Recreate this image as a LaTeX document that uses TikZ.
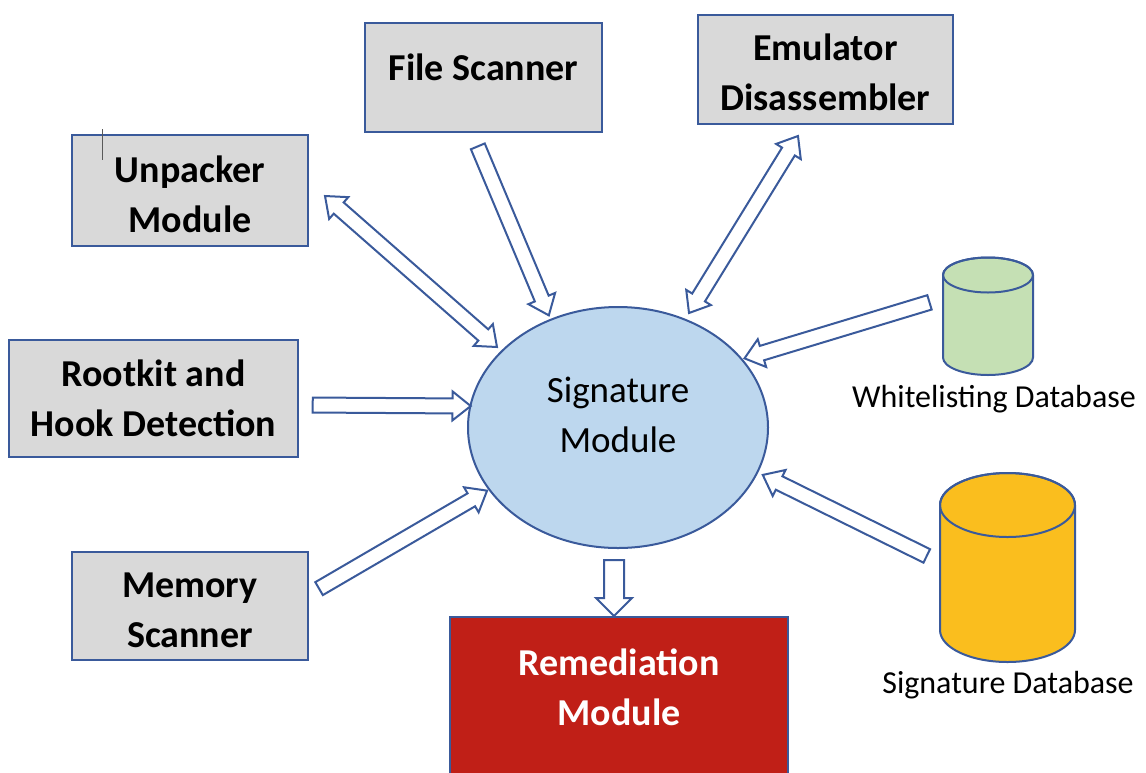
\documentclass[tikz,border=0pt]{standalone}
\usepackage{fontspec}
\setmainfont{Carlito}
\usetikzlibrary{shapes.arrows,shapes.geometric,calc}

\definecolor{edgeblue}{RGB}{58,90,155}
\definecolor{boxgray}{RGB}{217,217,217}
\definecolor{sigblue}{RGB}{189,215,238}
\definecolor{remred}{RGB}{192,31,23}
\definecolor{wlgreen}{RGB}{197,224,180}
\definecolor{dbyellow}{RGB}{250,190,30}

\tikzset{
  module/.style={draw=edgeblue, line width=2.5pt, fill=boxgray, align=center,
    inner sep=0pt, font=\bfseries\fontsize{38}{50}\selectfont},
  hollow/.style={single arrow, draw=edgeblue, fill=white, line width=2pt,
    inner xsep=0pt, inner ysep=6.5pt, single arrow head extend=7pt,
    single arrow tip angle=77, single arrow head indent=0pt},
  hollowwide/.style={hollow, inner ysep=9pt, single arrow head extend=8pt,
    single arrow tip angle=90},
  hollowtwo/.style={double arrow, draw=edgeblue, fill=white, line width=2pt,
    inner xsep=0pt, inner ysep=6.5pt, double arrow head extend=7pt,
    double arrow tip angle=77, double arrow head indent=0pt},
  dbtext/.style={font=\fontsize{32}{38}\selectfont, inner sep=0pt, anchor=base},
  dbline/.style={draw=edgeblue, line width=2pt},
}

% hollow block arrow between two named points: name, style, from, to
\newcommand\hollowarrow[4]{%
  \path let \p1=(#3), \p2=(#4),
        \n1={atan2(\y2-\y1,\x2-\x1)}, \n2={veclen(\x2-\x1,\y2-\y1)} in
    node (#1) [#2, rotate=\n1, minimum height=\n2] at ($(\p1)!0.5!(\p2)$) {};}

% upright database cylinder: centre x, top y, bottom y, x radius, y radius, fill
\newcommand\dbcylinder[6]{%
  \filldraw[dbline, fill=#6] (#1-#4,#2) -- (#1-#4,#3)
    arc[start angle=180, end angle=360, x radius=#4pt, y radius=#5pt]
    -- (#1+#4,#2) arc[start angle=0, end angle=180, x radius=#4pt, y radius=#5pt] -- cycle;
  \draw[dbline] (#1,#2) ellipse[x radius=#4pt, y radius=#5pt];}

\begin{document}
\begin{tikzpicture}[x=1pt,y=1pt]
\useasboundingbox (0,0) rectangle (1146,-772);

% central module
\node (sig) [ellipse, draw=edgeblue, line width=2pt, fill=sigblue, minimum width=300pt,
  minimum height=241pt, inner sep=0pt, align=center, text depth=25pt,
  font=\fontsize{37}{50}\selectfont] at (618,-427.5) {Signature\\Module};

% surrounding modules
\node (fs)  [module, minimum width=237pt, minimum height=109pt, text depth=21pt]
  at (483.5,-77.5) {File Scanner};
\node (emu) [module, minimum width=255pt, minimum height=109pt, text height=82pt]
  at (825.5,-69.5) {Emulator\\Disassembler};
\node (unp) [module, minimum width=236pt, minimum height=111pt, text height=84.5pt]
  at (190,-190.5) {Unpacker\\Module};
\node (rk)  [module, minimum width=289pt, minimum height=117pt]
  at (153.5,-398.5) {Rootkit and\\Hook Detection};
\node (mem) [module, minimum width=236pt, minimum height=108pt, text height=82.5pt]
  at (190,-606) {Memory\\Scanner};
\node (rem) [module, fill=remred, text=white, minimum width=338pt, minimum height=183pt,
  text depth=43pt] at (619,-708.5) {Remediation\\Module};

% text cursor mark
\draw[line width=1pt, black!65] (102,-129) -- (102,-160);

% databases
\dbcylinder{988}{-275}{-357.5}{45}{17.5}{wlgreen}
\coordinate (wl) at (988,-316);
\node (wltext) [dbtext] at (994,-407) {Whitelisting Database};
\dbcylinder{1007.5}{-505}{-630}{67.5}{32}{dbyellow}
\coordinate (sdb) at (1007.5,-567);
\node (sdbtext) [dbtext] at (1008,-693) {Signature Database};

% arrow end points
\coordinate (fsA)  at (476,-142);  \coordinate (fsB)  at (547,-311);
\coordinate (unpA) at (325,-196);  \coordinate (unpB) at (497,-347);
\coordinate (emuA) at (798,-136);  \coordinate (emuB) at (689,-313);
\coordinate (wlA)  at (934,-301);  \coordinate (wlB)  at (749,-357);
\coordinate (sdbA) at (931,-558);  \coordinate (sdbB) at (767,-477);
\coordinate (rkA)  at (308,-405);  \coordinate (rkB)  at (466,-406);
\coordinate (memA) at (315,-591);  \coordinate (memB) at (483,-493);
\coordinate (remA) at (614,-555);  \coordinate (remB) at (614,-611);

% connectors
\hollowarrow{aFs}{hollow}{fsA}{fsB}
\hollowarrow{aUnp}{hollowtwo}{unpA}{unpB}
\hollowarrow{aEmu}{hollowtwo}{emuB}{emuA}
\hollowarrow{aWl}{hollow}{wlA}{wlB}
\hollowarrow{aSdb}{hollow}{sdbA}{sdbB}
\hollowarrow{aRk}{hollow}{rkA}{rkB}
\hollowarrow{aMem}{hollow}{memA}{memB}
\hollowarrow{aRem}{hollowwide}{remA}{remB}
\end{tikzpicture}
\end{document}
